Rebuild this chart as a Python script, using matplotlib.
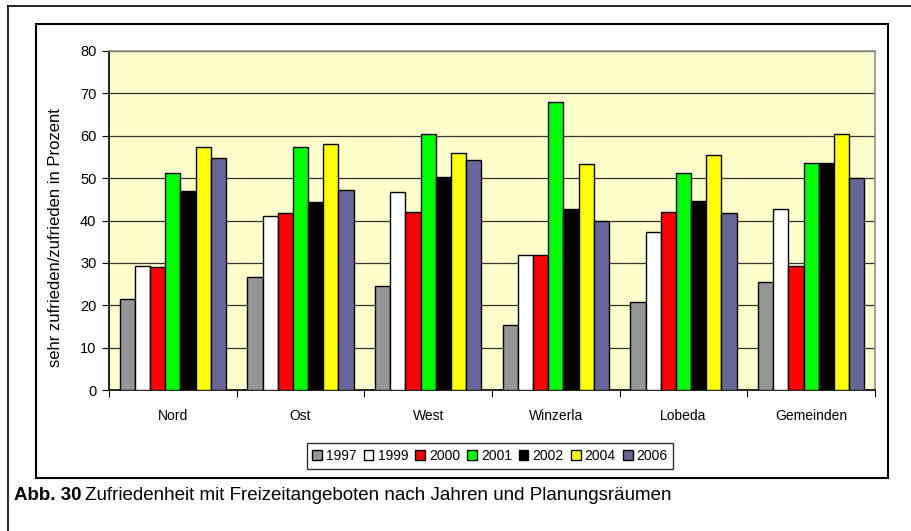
import numpy as np
import matplotlib.pyplot as plt
from matplotlib.patches import Rectangle
from matplotlib.lines import Line2D

plt.rcParams.update({
    "font.family": ["Liberation Sans", "DejaVu Sans"],
    "font.size": 10,
})

regions = ['Nord', 'Ost', 'West', 'Winzerla', 'Lobeda', 'Gemeinden']
years = ['1997', '1999', '2000', '2001', '2002', '2004', '2006']
colors = ['#969696', '#ffffff', '#ff0000', '#00ff00', '#000000', '#ffff00', '#666699']

v1997 = [21.4, 26.7, 24.5, 15.3, 20.7, 25.5]
v1999 = [29.3, 41.1, 46.8, 31.8, 37.3, 42.6]
v2000 = [29.0, 41.8, 42.1, 31.8, 42.1, 29.3]
v2001 = [51.3, 57.4, 60.3, 67.9, 51.3, 53.6]
v2002 = [47.0, 44.4, 50.2, 42.7, 44.7, 53.6]
v2004 = [57.4, 58.0, 56.0, 53.3, 55.5, 60.3]
v2006 = [54.8, 47.1, 54.2, 39.8, 41.8, 50.1]
series = [v1997, v1999, v2000, v2001, v2002, v2004, v2006]

fig = plt.figure(figsize=(9.12, 5.31), dpi=100)

# outer page frame (only top and left visible)
fig.add_artist(Line2D([8.5/912, 1], [1-6/531, 1-6/531], color='black', lw=1.2, transform=fig.transFigure))
fig.add_artist(Line2D([8.5/912, 8.5/912], [0, 1-6/531], color='black', lw=1.2, transform=fig.transFigure))
# chart frame
fig.add_artist(Rectangle((36/912, 1-478/531), 852/912, 454/531, fill=False,
                         edgecolor='black', lw=1.5, transform=fig.transFigure))

ax = fig.add_axes([109/912, 1-390/531, 766/912, 339/531])
ax.set_facecolor('#ffffcc')

x = np.arange(len(regions))
w = 1/8.4
for i, (vals, c) in enumerate(zip(series, colors)):
    ax.bar(x + (i-3)*w, vals, w, color=c, edgecolor='black', linewidth=1.0,
           label=years[i], zorder=3)

ax.set_xlim(-0.5, 5.5)
ax.set_ylim(0, 80)
ax.set_yticks(np.arange(0, 81, 10))
ax.yaxis.grid(True, color='#333333', lw=0.9, zorder=0)
ax.set_axisbelow(True)

ax.set_xticks(np.arange(-0.5, 6, 1))
ax.set_xticklabels([])
ax.set_xticks(x, minor=True)
ax.set_xticklabels(regions, minor=True)
ax.tick_params(axis='x', which='minor', length=0, pad=14)
ax.tick_params(axis='x', which='major', length=5, direction='out', color='black')
ax.tick_params(axis='y', length=5, direction='out', pad=4, labelsize=10.5)

ax.spines['left'].set_color('black')
ax.spines['bottom'].set_color('black')
ax.spines['top'].set_color('#909090')
ax.spines['right'].set_color('#909090')
for s in ax.spines.values():
    s.set_linewidth(1.2)

ax.set_ylabel('sehr zufrieden/zufrieden in Prozent', fontsize=12)
ax.yaxis.set_label_coords(-0.060, 0.451)

leg = fig.legend(loc='center', bbox_to_anchor=(490/912, 1-456/531), ncol=7,
                 frameon=True, fancybox=False, edgecolor='black',
                 handlelength=0.7, handleheight=0.7, handletextpad=0.3,
                 columnspacing=0.5, borderpad=0.4)
leg.get_frame().set_linewidth(1.0)

# caption: bold figure number followed by regular text
cap1 = fig.text(14/912, 1-496/531, 'Abb. 30', fontsize=13.5, fontweight='bold', va='center', ha='left')
fig.canvas.draw()
bb = cap1.get_window_extent()
fig.text((bb.x1 + 4)/912, 1-496/531,
         'Zufriedenheit mit Freizeitangeboten nach Jahren und Planungsräumen',
         fontsize=13.5, va='center', ha='left')

fig.savefig('out.png', dpi=100)
